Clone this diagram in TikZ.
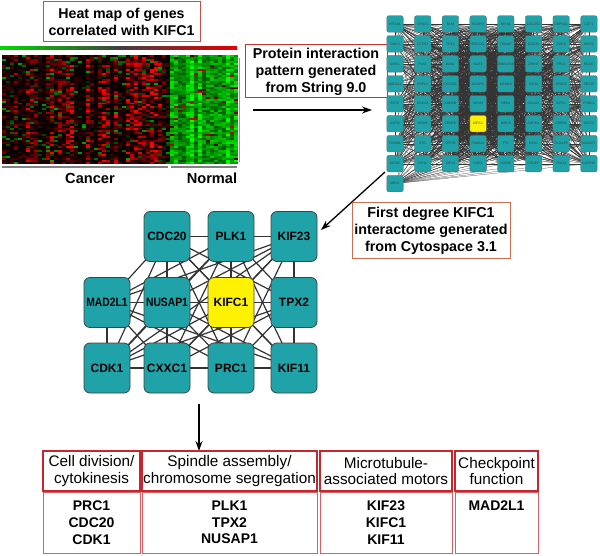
\documentclass[tikz,border=0pt]{standalone}
\usepackage{fontspec}
\setmainfont{Liberation Sans}
\usetikzlibrary{arrows.meta}
\definecolor{teal1}{RGB}{31,163,168}
\definecolor{boxred}{RGB}{196,40,46}
\definecolor{bodyred}{RGB}{214,96,100}
\definecolor{titlered}{RGB}{196,78,74}
\definecolor{protred}{RGB}{200,50,50}
\definecolor{brownred}{RGB}{204,110,84}
\pgfdeclarelayer{bg}
\pgfsetlayers{bg,main}
\tikzset{
 ttl/.style={line width=1pt, align=center, inner sep=0pt, font=\fontsize{14.2}{16.8}\selectfont\bfseries},
 tnode/.style={draw=black!60, line width=0.3pt, fill=teal1, rounded corners=2pt, minimum width=16.5pt, minimum height=16.5pt, inner sep=0pt, font=\fontsize{3.4}{4}\selectfont, text=black!75},
 tedge/.style={line width=0.22pt, draw=black!80},
 mnode/.style={draw=black!75, line width=0.8pt, fill=teal1, rounded corners=6pt, minimum width=46pt, minimum height=50pt, inner sep=0pt, font=\fontsize{12}{14}\selectfont\bfseries},
 medge/.style={line width=1.2pt, draw=black!80},
 arr/.style={line width=1.3pt, -{Stealth[length=10pt,width=7pt]}},
 hdr/.style={draw=boxred, line width=1.6pt, align=center, inner sep=0pt, minimum height=40pt, font=\fontsize{15.3}{16.6}\selectfont},
 bdy/.style={draw=bodyred, line width=1pt, align=center, inner sep=0pt, minimum height=61pt, font=\fontsize{14}{16.7}\selectfont\bfseries},
 grp/.style={font=\fontsize{14.6}{16}\selectfont\bfseries, inner sep=0pt}
}
\begin{document}
\begin{tikzpicture}[x=1pt,y=-1pt]
\useasboundingbox (0,0) rectangle (600,556);

% ---------- heat map ----------
\node[ttl, draw=titlered, minimum width=157pt, minimum height=40pt] (hmtitle) at (121.5,22) {Heat map of genes\\correlated with KIFC1};
\shade[left color=green!85!black, right color=red!90!black, middle color=black!75] (0,46.5) rectangle (237,49.5);
\pgfmathsetseed{12}
\foreach \i in {0,...,58}{
  \pgfmathsetmacro\colb{rnd}
  \foreach \j in {0,...,54}{
    \pgfmathsetmacro\u{rnd}
    \pgfmathsetmacro\v{rnd}
    \ifnum\i<42
      \pgfmathsetmacro\rr{\u<0.92 ? min(1,(0.05+0.95*\colb)*\v*\v*1.4) : 0}
      \pgfmathsetmacro\gg{\u<0.92 ? 0 : 0.15+0.5*\v}
    \else
      \pgfmathsetmacro\rr{\u<0.95 ? 0 : 0.3+0.5*\v}
      \pgfmathsetmacro\gg{\u<0.95 ? min(1,(0.45+0.55*\colb)*(0.5+0.7*\v)) : 0}
    \fi
    \definecolor{hc}{rgb}{\rr,\gg,0}
    \fill[hc] ({2+\i*4},{55+\j*1.98}) rectangle ++(4.05,2.05);
  }
}
\draw[gray, line width=1.3pt] (2,167) -- (168,167);
\draw[gray, line width=1.3pt] (171,167) -- (237,167);
\draw[gray!80, line width=1pt] (239.5,58) -- (239.5,162);
\node[grp] (cancer) at (90,178) {Cancer};
\node[grp] (normal) at (212,178) {Normal};

% ---------- protein interaction box & arrow ----------
\node[ttl, draw=protred, minimum width=142pt, minimum height=53pt, font=\fontsize{14.3}{17}\selectfont\bfseries] (prot) at (316,71.5) {Protein interaction\\pattern generated\\from String 9.0};
\coordinate (a1s) at (253,110);
\coordinate (a1e) at (372,110);
\draw[arr] (a1s) -- (a1e);

% ---------- String network ----------
\foreach \lab [count=\k from 0] in {KIF18A,CXXC1,BLM,NCAPH,KIF4A,CDC25A,DEPDC1,CDT1,
 SMC4,GTSE1,TPX2,ERCC6L,TROAP,CDC20,CDC6,KIF15,
 GINS1,PLK1,BUB1,NUF2,TIMELESS,ZWINT,PRC1,MCM7,
 MAD2L1,ESPL1,CDC25C,NCAPG,MCM10,KIF23,SPAG5,SPC25,
 ECT2,CDCA8,AURKB,MCM4,NEK2,CDCA5,KIF2C,PSRC1,
 ASPM,MCM6,CENPE,KIFC1,BIRC5,AURKA,CHEK1,TACC3,
 FOXM1,STIL,CEP55,FAM64A,TTK,EXO1,DLGAP5,NUSAP1,
 MCM2,KIF11,KIF14,CDK1,NDC80,CENPF,POLQ,INCENP}{
  \pgfmathtruncatemacro\r{int(\k/8)+1}
  \pgfmathtruncatemacro\c{mod(\k,8)+1}
  \ifnum\k=43 \def\fc{yellow}\else\def\fc{teal1}\fi
  \node[tnode, fill=\fc] (t-\r-\c) at ({395+(\c-1)*27.7},{24+(\r-1)*19.95}) {\lab};
}
\node[tnode] (t-9-1) at (395,{24+8*19.95}) {MELK};
\begin{pgfonlayer}{bg}
\foreach \n in {1,...,1500}{
  \pgfmathrandominteger{\ra}{1}{8}
  \pgfmathrandominteger{\ca}{1}{8}
  \pgfmathrandominteger{\rb}{1}{8}
  \pgfmathrandominteger{\cb}{1}{8}
  \draw[tedge] (t-\ra-\ca.center) -- (t-\rb-\cb.center);
}
\foreach \n in {1,...,900}{
  \pgfmathrandominteger{\ra}{1}{8}
  \pgfmathrandominteger{\ca}{3}{6}
  \pgfmathrandominteger{\rb}{1}{8}
  \pgfmathrandominteger{\cb}{3}{6}
  \draw[tedge] (t-\ra-\ca.center) -- (t-\rb-\cb.center);
}
\foreach \c in {2,...,8}{
  \foreach \r in {5,6,7,8}{
    \draw[tedge] (t-9-1.center) -- (t-\r-\c.center);
  }
}
\end{pgfonlayer}

% ---------- arrow to interactome ----------
\coordinate (a2s) at (385,172);
\coordinate (a2e) at (321,230);
\draw[arr] (a2s) -- (a2e);
\node[ttl, draw=brownred, minimum width=158pt, minimum height=56pt, font=\fontsize{14.3}{17}\selectfont\bfseries] (first) at (431,231) {First degree KIFC1\\interactome generated\\from Cytospace 3.1};

% ---------- first-degree interactome ----------
\node[mnode] (m1) at (167,236.5) {CDC20};
\node[mnode] (m2) at (231,236.5) {PLK1};
\node[mnode] (m3) at (294,236.5) {KIF23};
\node[mnode] (m4) at (107,302.5) {\scalebox{0.86}[1]{MAD2L1}};
\node[mnode] (m5) at (167,302.5) {\scalebox{0.86}[1]{NUSAP1}};
\node[mnode, fill=yellow] (m6) at (231,302.5) {KIFC1};
\node[mnode] (m7) at (294,302.5) {TPX2};
\node[mnode] (m8) at (107,368) {CDK1};
\node[mnode] (m9) at (167,368) {CXXC1};
\node[mnode] (m10) at (231,368) {PRC1};
\node[mnode] (m11) at (294,368) {KIF11};
\begin{pgfonlayer}{bg}
\foreach \a in {1,...,11}{
  \foreach \b in {\a,...,11}{
    \draw[medge] (m\a.center) -- (m\b.center);
  }
}
\end{pgfonlayer}

% ---------- arrow to categories ----------
\coordinate (a3s) at (199,404);
\coordinate (a3e) at (199,451);
\draw[arr] (a3s) -- (a3e);

% ---------- category boxes ----------
\node[hdr, minimum width=97pt] (h1) at (91.5,471) {Cell division/\\cytokinesis};
\node[hdr, minimum width=175pt] (h2) at (229.5,471) {Spindle assembly/\\chromosome segregation};
\node[hdr, minimum width=132pt] (h3) at (386,471) {Microtubule-\\associated motors};
\node[hdr, minimum width=83pt] (h4) at (496.5,471) {Checkpoint\\function};
\node[bdy, minimum width=97pt] (b1) at (91.5,522.5) {PRC1\\CDC20\\CDK1};
\node[bdy, minimum width=175pt] (b2) at (229.5,522.5) {PLK1\\TPX2\\NUSAP1};
\node[bdy, minimum width=132pt] (b3) at (386,522.5) {KIF23\\KIFC1\\KIF11};
\node[bdy, minimum width=83pt] (b4) at (496.5,522.5) {MAD2L1\\\phantom{X}\\\phantom{X}};
\end{tikzpicture}
\end{document}
